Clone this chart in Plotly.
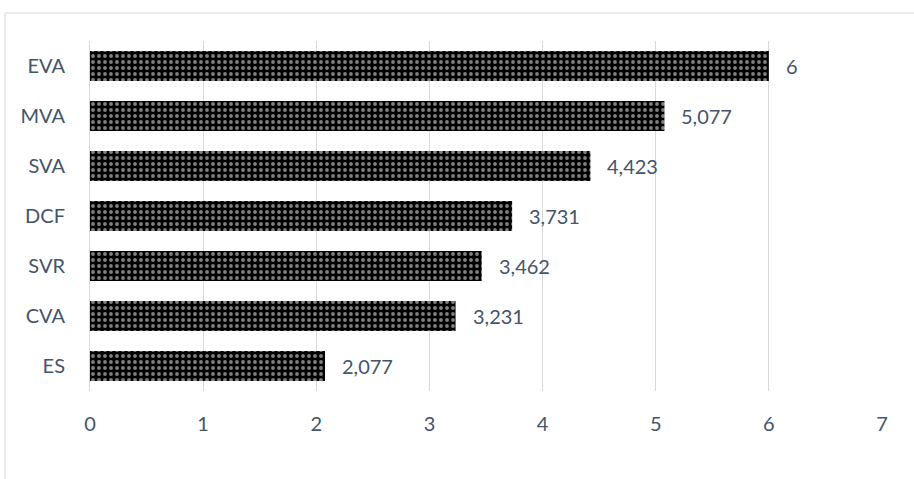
import plotly.graph_objects as go

# Scores per valuation method
methods = ["ES", "CVA", "SVR", "DCF", "SVA", "MVA", "EVA"]
scores = [2.077, 3.231, 3.462, 3.731, 4.423, 5.077, 6]
x_ticks = [0, 1, 2, 3, 4, 5, 6, 7]

W, H = 914, 479
L, R, T, B = 90, 32, 41, 88
pw, ph = W - L - R, H - T - B

text_color = "#44546A"
grid_color = "#D9D9D9"
font_size = 20

fig = go.Figure(
    go.Bar(
        y=methods,
        x=scores,
        orientation="h",
        width=0.6,
        marker=dict(
            color="black",
            line=dict(width=0),
            pattern=dict(shape=".", bgcolor="black", fgcolor="white",
                         size=6, solidity=0.32, fillmode="overlay"),
        ),
        hoverinfo="skip",
    )
)

# Value labels next to each bar end, decimal comma
for m, v in zip(methods, scores):
    label = f"{v:.3f}".rstrip("0").rstrip(".").replace(".", ",")
    fig.add_annotation(x=v, y=m, text=label, showarrow=False,
                       xanchor="left", xshift=15,
                       font=dict(size=font_size, color=text_color))

def px_x(p):
    return (p - L) / pw

def px_y(p):
    return (T + ph - p) / ph

# Chart-area frame
fig.add_shape(type="rect", xref="paper", yref="paper",
              x0=px_x(5), x1=px_x(W + 10), y0=px_y(H + 10), y1=px_y(13),
              line=dict(color=grid_color, width=1), fillcolor="rgba(0,0,0,0)",
              layer="below")

fig.update_layout(
    width=W, height=H,
    margin=dict(l=L, r=R, t=T, b=B),
    paper_bgcolor="white", plot_bgcolor="white",
    font=dict(family="Lato, Open Sans, sans-serif", color=text_color, size=font_size),
    showlegend=False,
    xaxis=dict(range=[0, 7], tickvals=x_ticks, showgrid=True, gridcolor=grid_color,
               gridwidth=1, zeroline=False, showline=False, ticks="",
               tickfont=dict(size=font_size, color=text_color), ticklabelstandoff=19),
    yaxis=dict(showgrid=False, showline=True, linecolor=grid_color, linewidth=1,
               ticks="", tickfont=dict(size=font_size, color=text_color),
               ticklabelstandoff=20, range=[-0.5, 6.5]),
)

fig.write_html("out.html")
